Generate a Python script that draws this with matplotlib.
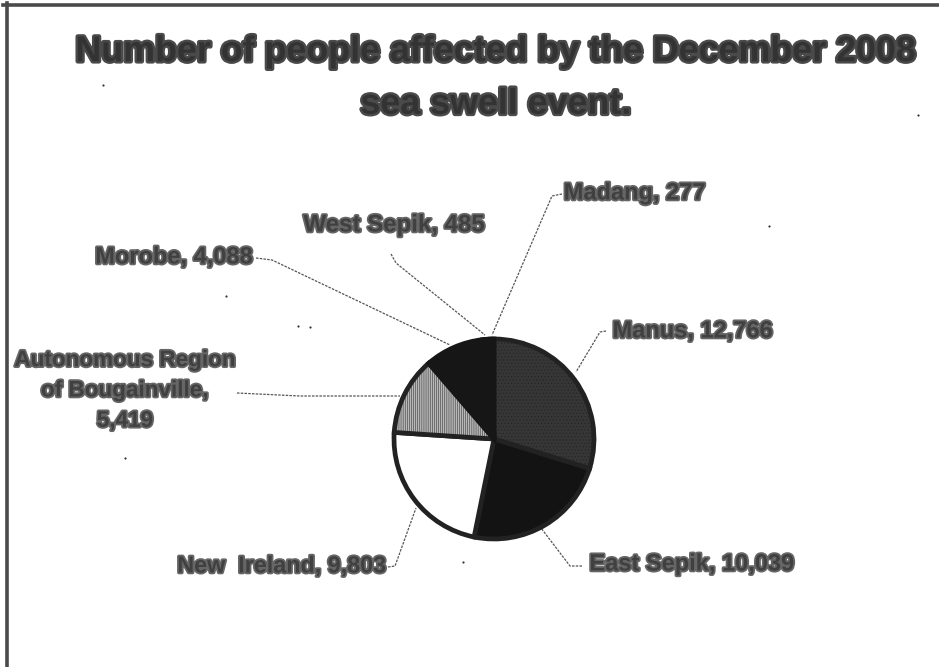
import matplotlib
matplotlib.use('Agg')
import matplotlib.pyplot as plt
import matplotlib.patheffects as pe

plt.rcParams['hatch.linewidth'] = 0.35
plt.rcParams['hatch.color'] = '#6a6a6a'

# clockwise from 12 o'clock
regions = ['Manus', 'East Sepik', 'New Ireland', 'Autonomous Region of Bougainville',
           'Morobe', 'West Sepik', 'Madang']
people = [12766, 10039, 9803, 5419, 4088, 485, 277]
slice_colors = ['#363636', '#131313', '#ffffff', '#b8b8b8', '#161616', '#161616', '#161616']

title = 'Number of people affected by the December 2008\nsea swell event.'
label_text = ['Manus, 12,766', 'East Sepik, 10,039', 'New  Ireland, 9,803',
              'Autonomous Region\nof Bougainville,\n5,419', 'Morobe, 4,088',
              'West Sepik, 485', 'Madang, 277']

W, H = 939, 667
fig = plt.figure(figsize=(W / 100, H / 100), dpi=100, facecolor='white')

# overlay in pixel coordinates, for text and leader lines
bg = fig.add_axes([0, 0, 1, 1])
bg.set_xlim(0, W)
bg.set_ylim(H, 0)
bg.axis('off')

# pie
cx, cy, r = 494, 439, 102
pie_ax = fig.add_axes([(cx - r) / W, 1 - (cy + r) / H, 2 * r / W, 2 * r / H])
wedges, _ = pie_ax.pie(people, colors=slice_colors, startangle=90, counterclock=False,
                       radius=1, wedgeprops={'edgecolor': '#222222', 'linewidth': 3.4})
pie_ax.set_xlim(-1.02, 1.02)
pie_ax.set_ylim(-1.02, 1.02)
wedges[0].set_hatch('.....')
wedges[3].set_hatch('||||||||')
for w in wedges[4:]:
    w.set_edgecolor('#161616')

bg.text(496, 78, title, ha='center', va='center', fontsize=25.8, fontweight='bold',
        family='Liberation Sans', color='#333333', linespacing=1.65,
        path_effects=[pe.withStroke(linewidth=3.4, foreground='#4a4a4a')])

# centre of each label in pixels, and its size
label_pos = [(693, 331), (692, 564), (282, 566), (125, 391), (174, 257), (394, 225), (635, 193)]
label_size = [17, 17, 16.8, 16.2, 17, 17.3, 17]
for txt, (x, y), size in zip(label_text, label_pos, label_size):
    bg.text(x, y, txt, ha='center', va='center', fontsize=size, fontweight='bold',
            family='Liberation Sans', color='#404040', linespacing=1.58,
            path_effects=[pe.withStroke(linewidth=2.6, foreground='#666666')])

# leader lines
leaders = [
    ([606, 600, 576], [331, 332, 372]),
    ([582, 570, 541], [566, 566, 528]),
    ([388, 395, 416], [567, 566, 508]),
    ([237, 300, 400], [393, 396, 396]),
    ([256, 272, 450], [258, 260, 345]),
    ([391, 396, 485], [254, 263, 335]),
    ([562, 552, 492], [194, 196, 335]),
]
for xs, ys in leaders:
    bg.plot(xs, ys, color='#555555', lw=0.9, ls=(0, (2, 1)))

# scanned page frame, left and top only
bg.plot([7, 7], [3, H], color='#4a4a4a', lw=2.6)
bg.plot([3, W], [5, 5], color='#4a4a4a', lw=2.6)

# specks from the scan
speck_x = [103, 226, 298, 310, 125, 769, 463, 918]
speck_y = [85, 296, 326, 327, 458, 226, 562, 115]
bg.scatter(speck_x, speck_y, s=2.5, color='#333333', lw=0)

fig.savefig('out.png', dpi=100, facecolor='white')
